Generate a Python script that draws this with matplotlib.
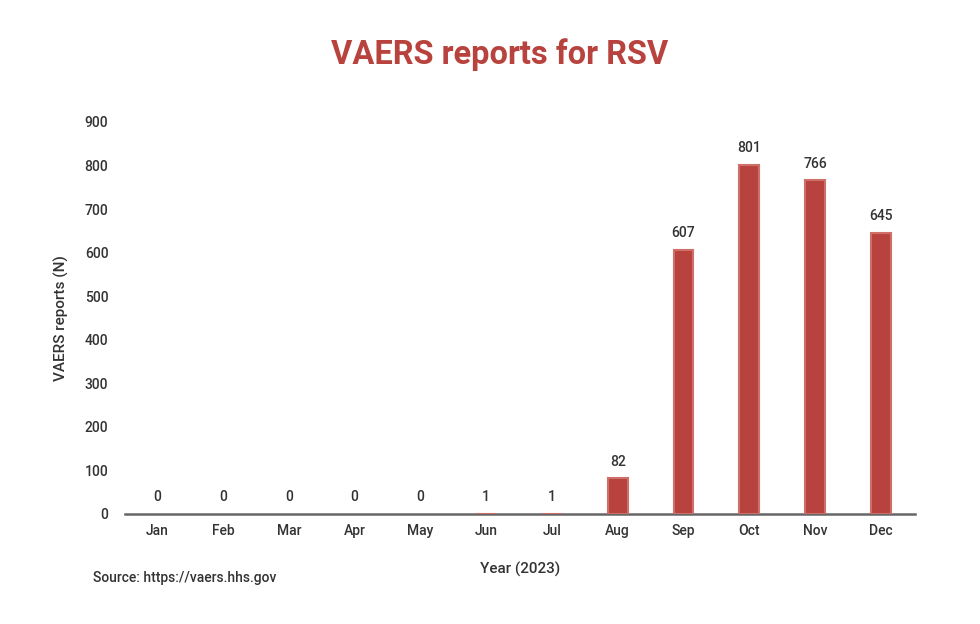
import matplotlib
matplotlib.use("Agg")
import matplotlib.pyplot as plt

months = ["Jan", "Feb", "Mar", "Apr", "May", "Jun",
          "Jul", "Aug", "Sep", "Oct", "Nov", "Dec"]
reports = [0, 0, 0, 0, 0, 1, 1, 82, 607, 801, 766, 645]
y_ticks = [0, 100, 200, 300, 400, 500, 600, 700, 800, 900]

BAR = "#b8433e"
TEXT = "#333333"

plt.rcParams["font.family"] = ["Roboto", "DejaVu Sans"]

fig = plt.figure(figsize=(9.8, 6.24), dpi=100)
ax = fig.add_axes([0.1276, 0.1763, 0.8061, 0.6282])

x = range(len(months))
# no outline on the empty months so they stay invisible
edge_w = [0 if v == 0 else 1.5 for v in reports]
ax.bar(x, reports, width=0.3, color=BAR, edgecolor="#cf6f6a", linewidth=edge_w,
       zorder=3)

for xi, v in zip(x, reports):
    ax.annotate(str(v), (xi, v), xytext=(0, 7), textcoords="offset points",
                ha="center", va="bottom", fontsize=10, color=TEXT,
                fontweight="medium", annotation_clip=False)

ax.set_xlim(-0.49, 11.52)
ax.set_ylim(0, 900)
ax.set_yticks(y_ticks)
ax.set_xticks(list(x))
ax.set_xticklabels(months)

for side in ["top", "right", "left"]:
    ax.spines[side].set_visible(False)
ax.spines["bottom"].set_color("#666666")
ax.spines["bottom"].set_linewidth(1.8)
ax.spines["bottom"].set_zorder(2)

ax.tick_params(axis="both", length=0, labelsize=10, colors=TEXT)
ax.tick_params(axis="x", pad=7)
ax.tick_params(axis="y", pad=12)
for lbl in ax.get_xticklabels() + ax.get_yticklabels():
    lbl.set_fontweight("medium")

ax.set_ylabel("VAERS reports (N)", fontsize=11, color=TEXT, fontweight="medium", labelpad=11)
ax.set_xlabel("Year (2023)", fontsize=11, color=TEXT, fontweight="medium", labelpad=17)

fig.text(0.51, 0.913, "VAERS reports for RSV", ha="center", va="center",
         fontsize=23.5, fontweight="bold", color=BAR)
fig.text(0.095, 0.074, "Source: https://vaers.hhs.gov", ha="left", va="center",
         fontsize=10, color=TEXT, fontweight="medium")

fig.savefig("out.png", dpi=100, facecolor="white")
